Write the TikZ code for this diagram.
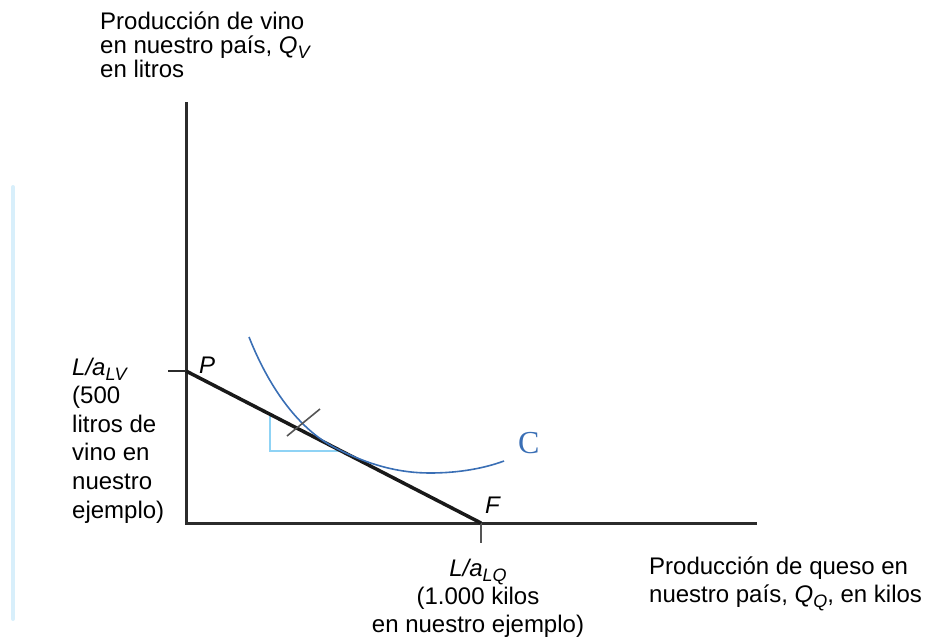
\documentclass[tikz,border=0pt]{standalone}
\usepackage{fontspec}
\setmainfont{Liberation Sans}
\newfontfamily\serifC{Liberation Serif}
\newcommand\lowsub[1]{\raisebox{-5pt}{\fontsize{18}{18}\selectfont\itshape #1}}
\definecolor{curveblue}{HTML}{3A6FB5}
\definecolor{triblue}{HTML}{8FD3F5}
\definecolor{faintblue}{HTML}{D8EFFB}
\definecolor{axisgray}{HTML}{2B2B2B}
\tikzset{
  axisline/.style={draw=axisgray, line width=3pt},
  budget/.style={draw=black!90, line width=3.5pt},
  tickline/.style={draw=axisgray!80, line width=1.6pt},
  lbl/.style={inner sep=0pt, font=\fontsize{24}{24}\selectfont},
  ptlbl/.style={inner sep=0pt, anchor=base west, font=\fontsize{24}{24}\selectfont\itshape}
}
\begin{document}
\begin{tikzpicture}[x=1pt,y=-1pt]
\useasboundingbox (0,0) rectangle (927,637);
% faint artifact line at left
\draw[faintblue, line width=4pt, line cap=round] (13,187) -- (13,619);
% coordinates
\coordinate (O) at (186,523);
\coordinate (Ytop) at (186,102);
\coordinate (Xend) at (757,523);
\coordinate (P) at (186,371);
\coordinate (F) at (481,523);
\coordinate (Pt) at (168,371);
\coordinate (Ft) at (481,543);
\coordinate (T1) at (270,416);
\coordinate (T2) at (270,451);
\coordinate (T3) at (340,451);
\coordinate (K1) at (287,436);
\coordinate (K2) at (320,409);
\coordinate (C0) at (249,337);
\coordinate (C1) at (335,447.7);
\coordinate (C2) at (430,473);
\coordinate (C3) at (504,461);
% triangle
\draw[triblue, line width=2.5pt] (T1) -- (T2) -- (T3);
% axes
\draw[axisline] (Ytop) -- (O) -- (Xend);
\draw[axisline, line width=2.5pt] (Pt) -- (P);
\draw[tickline] (F) -- (Ft);
% budget line
\draw[budget] (P) -- (F);
% indifference curve
\draw[curveblue, line width=1.6pt] (C0) .. controls (270,390) and (300,429.7) .. (C1)
  .. controls (370,465.7) and (400,473) .. (C2)
  .. controls (460,473) and (485,468) .. (C3);
% tick mark
\draw[tickline] (K1) -- (K2);
% labels (base anchor = baseline of last line)
\node[lbl, anchor=base west, align=left, font=\fontsize{24}{24}\selectfont] (ylab) at (100,77)
  {Producción de vino\\en nuestro país, \textit{Q}\lowsub{V}\\en litros};
\node[lbl, anchor=base west, align=left, font=\fontsize{24}{28.6}\selectfont] (pval) at (72,518)
  {\textit{L/a}\lowsub{LV}\\(500\\litros de\\vino en\\nuestro\\ejemplo)};
\node[lbl, anchor=base, align=center, font=\fontsize{24}{28}\selectfont] (fval) at (478,632)
  {\textit{L/a}\lowsub{LQ}\\(1.000 kilos\\en nuestro ejemplo)};
\node[lbl, anchor=base west, align=left, font=\fontsize{24}{28}\selectfont] (xlab) at (649,602)
  {Producción de queso en\\nuestro país, \textit{Q}\lowsub{Q}, en kilos};
\node[ptlbl] (Plab) at (199,373) {P};
\node[ptlbl] (Flab) at (485,513) {F};
\node[inner sep=0pt, anchor=base west, text=curveblue, font=\serifC\fontsize{32}{32}\selectfont] (Clab) at (518,453) {C};
\end{tikzpicture}
\end{document}
